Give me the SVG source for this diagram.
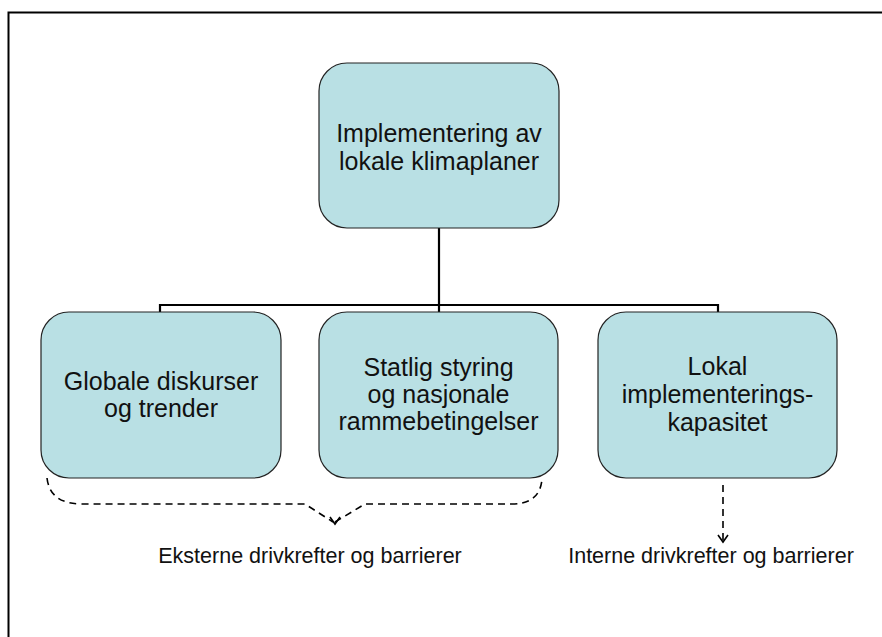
<svg xmlns="http://www.w3.org/2000/svg" width="882" height="637" viewBox="0 0 882 637">
<style>
.box{fill:#b9e0e4;stroke:#222;stroke-width:1.2}
.t{font-family:"Liberation Sans",Arial,sans-serif;font-size:25px;fill:#111;text-anchor:middle}
.lbl{font-family:"Liberation Sans",Arial,sans-serif;font-size:21.5px;fill:#111;text-anchor:middle}
.conn{fill:none;stroke:#000;stroke-width:2.2}
.dash{fill:none;stroke:#000;stroke-width:1.6;stroke-dasharray:7,5}
</style>
<rect width="882" height="637" fill="#fff"/>
<path d="M8.5,637 V12.5 H882" fill="none" stroke="#000" stroke-width="2"/>
<g id="connectors">
<path class="conn" d="M439,228 V305"/>
<path class="conn" d="M160,312 V305 H718 V312"/>
<path class="conn" d="M439,305 V312"/>
<path class="dash" d="M47,478 Q50,504 82,504 L305,504 L333,522"/>
<path class="dash" d="M335,522 L365,504 L512,504 Q540,504 542,479"/>
<path d="M330,517 L335,524 L340,517" fill="none" stroke="#000" stroke-width="1.6"/>
<path class="dash" d="M723,485 V540"/>
<path d="M718,535 L723,542 L728,535" fill="none" stroke="#000" stroke-width="1.6"/>
</g>
<g id="top">
<rect class="box" x="319" y="63" width="240" height="165" rx="28"/>
<text class="t" x="439" y="142">Implementering av</text>
<text class="t" x="439" y="170">lokale klimaplaner</text>
</g>
<g id="globale">
<rect class="box" x="41" y="312" width="240" height="166" rx="28"/>
<text class="t" x="161" y="390">Globale diskurser</text>
<text class="t" x="161" y="417">og trender</text>
</g>
<g id="statlig">
<rect class="box" x="319" y="312" width="239" height="166" rx="28"/>
<text class="t" x="438.5" y="376">Statlig styring</text>
<text class="t" x="438.5" y="403">og nasjonale</text>
<text class="t" x="438.5" y="430">rammebetingelser</text>
</g>
<g id="lokal">
<rect class="box" x="598" y="312" width="239" height="166" rx="28"/>
<text class="t" x="717.5" y="375">Lokal</text>
<text class="t" x="717.5" y="403">implementerings-</text>
<text class="t" x="717.5" y="431">kapasitet</text>
</g>
<g id="labels">
<text class="lbl" x="310" y="563">Eksterne drivkrefter og barrierer</text>
<text class="lbl" x="711" y="563">Interne drivkrefter og barrierer</text>
</g>
</svg>
